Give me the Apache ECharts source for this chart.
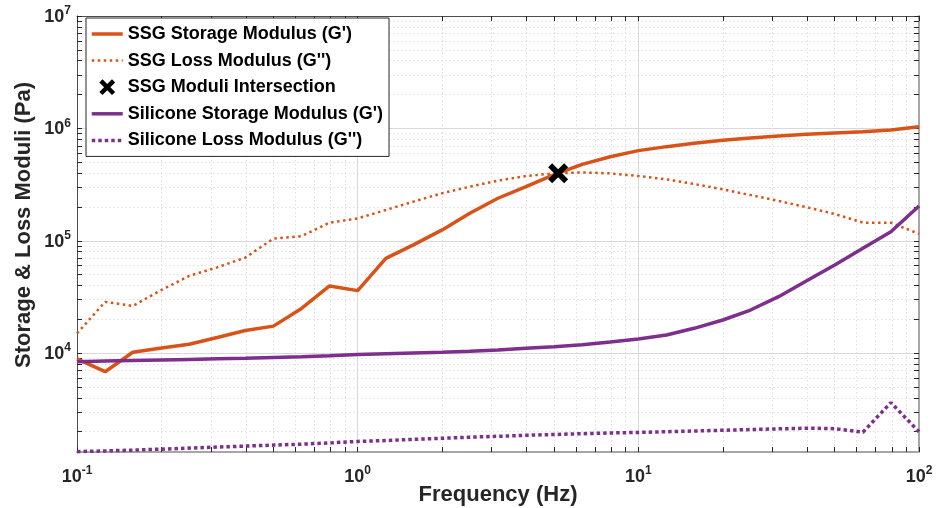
<!DOCTYPE html>
<html>
<head>
<meta charset="utf-8">
<script src="https://cdn.jsdelivr.net/npm/echarts@6/dist/echarts.min.js"></script>
<style>
html,body{margin:0;padding:0;background:#fff;}
#chart{width:937px;height:508px;}
</style>
</head>
<body>
<div id="chart"></div>
<script>
// ---- data ----
const freq = [0.1, 0.126, 0.158, 0.2, 0.251, 0.316, 0.398, 0.501, 0.631, 0.794,
  1, 1.26, 1.58, 2, 2.51, 3.16, 3.98, 5.01, 6.31, 7.94,
  10, 12.6, 15.8, 20, 25.1, 31.6, 39.8, 50.1, 63.1, 79.4, 100];
const ssgStorage = [8900, 6840, 10200, 11100, 12000, 13800, 15900, 17400, 25000, 39600,
  36000, 69800, 92000, 125000, 176000, 239000, 303000, 388000, 479000, 560000,
  634000, 688000, 737000, 783000, 822000, 856000, 885000, 910000, 935000, 968000, 1035000];
const ssgLoss = [15000, 28600, 26300, 36500, 48700, 58000, 70800, 104600, 110000, 145000,
  158000, 188000, 223000, 265000, 303000, 343000, 377000, 398000, 406000, 398000,
  377000, 352000, 320000, 287000, 255000, 226000, 199000, 173000, 145000, 145000, 115000];
const siliconeStorage = [8400, 8500, 8600, 8700, 8800, 8900, 9000, 9150, 9300, 9500,
  9750, 9900, 10050, 10200, 10400, 10670, 11040, 11420, 11900, 12590,
  13370, 14520, 16640, 19720, 24200, 31800, 44000, 61000, 85700, 120500, 204000];
const siliconeLoss = [1330, 1350, 1370, 1400, 1430, 1460, 1490, 1520, 1550, 1590,
  1640, 1670, 1710, 1750, 1790, 1820, 1860, 1890, 1920, 1950,
  1970, 2000, 2030, 2060, 2090, 2120, 2150, 2130, 1980, 3630, 2000];
const crossFreq = [5.18];
const crossModulus = [398000];

const seriesNames = ["SSG Storage Modulus (G')", "SSG Loss Modulus (G'')", "SSG Moduli Intersection",
  "Silicone Storage Modulus (G')", "Silicone Loss Modulus (G'')"];

// ---- axis ticks ----
const xMin = 0.1, xMax = 100, yMin = 1320, yMax = 1e7;
const xMajorTicks = [0.1, 1, 10, 100];
const yMajorTicks = [1e4, 1e5, 1e6, 1e7];
const minorSteps = [2, 3, 4, 5, 6, 7, 8, 9];
const xDecades = [0.1, 1, 10];
const yDecades = [1e3, 1e4, 1e5, 1e6];
const xMinorTicks = xDecades.flatMap(d => minorSteps.map(m => +(m * d).toPrecision(6)));
const yMinorTicks = yDecades.flatMap(d => minorSteps.map(m => m * d)).filter(v => v >= yMin);
const xAllTicks = xMajorTicks.concat(xMinorTicks);
const yAllTicks = yMajorTicks.concat(yMinorTicks);

const ORANGE = '#D95319', PURPLE = '#7E2F8E';
const FONT = '"Liberation Sans", Arial, Helvetica, sans-serif';

function pow10Label(v) {
  const e = Math.round(Math.log10(v));
  return '{b|10}{s|' + e + '}';
}
const richLbl = {
  b: {fontSize: 18, fontWeight: 'bold', fontFamily: FONT, color: '#262626', lineHeight: 20, verticalAlign: 'bottom'},
  s: {fontSize: 12, fontWeight: 'bold', fontFamily: FONT, color: '#262626', lineHeight: 12, padding: [0, 0, 9, 0], verticalAlign: 'bottom'}
};

function pairs(xs, ys) { return xs.map((x, i) => [x, ys[i]]); }

const darkLine = {show: true, onZero: false, lineStyle: {color: '#4d4d4d', width: 1}};
const lightLine = {show: true, onZero: false, lineStyle: {color: '#a6a6a6', width: 2}};
const tickStyle = {color: '#262626', width: 1};
const majorGrid = {show: true, lineStyle: {color: '#d9d9d9', width: 1, type: 'solid'}};
const minorGrid = {show: true, lineStyle: {color: '#dedede', width: 1, type: [1.5, 2.5]}};

const xAxes = [
  { // main bottom axis
    type: 'log', logBase: 10, min: xMin, max: xMax, position: 'bottom', gridIndex: 0,
    axisLine: lightLine,
    axisTick: {show: true, inside: true, length: 5, lineStyle: tickStyle, customValues: xAllTicks},
    axisLabel: {show: true, margin: 14, formatter: pow10Label, rich: richLbl, customValues: xMajorTicks},
    splitLine: {show: false}, minorTick: {show: false},
    name: 'Frequency (Hz)', nameLocation: 'middle', nameGap: 32, nameMoveOverlap: false,
    nameTextStyle: {fontSize: 22, fontWeight: 'bold', fontFamily: FONT, color: '#262626'}
  },
  { // major grid
    type: 'log', min: xMin, max: xMax, position: 'bottom', gridIndex: 0,
    axisLine: {show: false}, axisLabel: {show: false},
    axisTick: {show: false, customValues: xMajorTicks},
    splitLine: majorGrid
  },
  { // minor grid
    type: 'log', min: xMin, max: xMax, position: 'bottom', gridIndex: 0,
    axisLine: {show: false}, axisLabel: {show: false},
    axisTick: {show: false, customValues: xMinorTicks},
    splitLine: minorGrid
  },
  { // top mirror
    type: 'log', min: xMin, max: xMax, position: 'top', gridIndex: 0,
    axisLine: darkLine, axisLabel: {show: false},
    axisTick: {show: true, inside: true, length: 5, lineStyle: tickStyle, customValues: xAllTicks},
    splitLine: {show: false}
  }
];

const yAxes = [
  {
    type: 'log', logBase: 10, min: yMin, max: yMax, position: 'left', gridIndex: 0,
    axisLine: darkLine,
    axisTick: {show: true, inside: true, length: 5, lineStyle: tickStyle, customValues: yAllTicks},
    axisLabel: {show: true, margin: 6, formatter: pow10Label, rich: richLbl, customValues: yMajorTicks},
    splitLine: {show: false}, minorTick: {show: false},
    name: 'Storage & Loss Moduli (Pa)', nameLocation: 'middle', nameGap: 42, nameRotate: 90, nameMoveOverlap: false,
    nameTextStyle: {fontSize: 22, fontWeight: 'bold', fontFamily: FONT, color: '#262626', padding: [0, 0, 0, 18]}
  },
  {
    type: 'log', min: yMin, max: yMax, position: 'left', gridIndex: 0,
    axisLine: {show: false}, axisLabel: {show: false},
    axisTick: {show: false, customValues: yMajorTicks},
    splitLine: majorGrid
  },
  {
    type: 'log', min: yMin, max: yMax, position: 'left', gridIndex: 0,
    axisLine: {show: false}, axisLabel: {show: false},
    axisTick: {show: false, customValues: yMinorTicks},
    splitLine: minorGrid
  },
  {
    type: 'log', min: yMin, max: yMax, position: 'right', gridIndex: 0,
    axisLine: lightLine, axisLabel: {show: false},
    axisTick: {show: true, inside: true, length: 5, lineStyle: tickStyle, customValues: yAllTicks},
    splitLine: {show: false}
  }
];

const X_PATH = 'path://M2,0L5,3L8,0L10,2L7,5L10,8L8,10L5,7L2,10L0,8L3,5L0,2Z';
const X_LEGEND_PATH = 'path://M-0.7,-0.7M10.7,10.7M2,0L5,3L8,0L10,2L7,5L10,8L8,10L5,7L2,10L0,8L3,5L0,2Z';

const option = {
  animation: false,
  backgroundColor: '#ffffff',
  grid: {left: 77, right: 18, top: 16, bottom: 56, containLabel: false, outerBoundsMode: 'none'},
  legend: {
    orient: 'vertical', left: 86, top: 18,
    backgroundColor: '#ffffff', borderColor: '#262626', borderWidth: 1, borderRadius: 0,
    padding: [7, 6, 7, 4], itemGap: 8.6, itemWidth: 31, itemHeight: 18,
    itemStyle: {opacity: 0},
    lineStyle: {width: 3.5},
    textStyle: {fontSize: 18, fontWeight: 'bold', fontFamily: FONT, color: '#000'},
    data: [
      {name: seriesNames[0]},
      {name: seriesNames[1], lineStyle: {width: 2.5}},
      {name: seriesNames[2], icon: X_LEGEND_PATH, itemStyle: {opacity: 1, color: '#000'}},
      {name: seriesNames[3]},
      {name: seriesNames[4]}
    ]
  },
  xAxis: xAxes,
  yAxis: yAxes,
  series: [
    {name: seriesNames[0], type: 'line', xAxisIndex: 0, yAxisIndex: 0, data: pairs(freq, ssgStorage),
      symbol: 'none', showSymbol: false, lineStyle: {color: ORANGE, width: 3.5}, itemStyle: {color: ORANGE}, z: 3},
    {name: seriesNames[1], type: 'line', xAxisIndex: 0, yAxisIndex: 0, data: pairs(freq, ssgLoss),
      symbol: 'none', showSymbol: false, lineStyle: {color: ORANGE, width: 2.5, type: [2.5, 3.5]}, itemStyle: {color: ORANGE}, z: 3},
    {name: seriesNames[2], type: 'scatter', xAxisIndex: 0, yAxisIndex: 0, data: pairs(crossFreq, crossModulus),
      symbol: X_PATH, symbolSize: 20, itemStyle: {color: '#000', opacity: 1}, z: 10},
    {name: seriesNames[3], type: 'line', xAxisIndex: 0, yAxisIndex: 0, data: pairs(freq, siliconeStorage),
      symbol: 'none', showSymbol: false, lineStyle: {color: PURPLE, width: 3.5}, itemStyle: {color: PURPLE}, z: 4},
    {name: seriesNames[4], type: 'line', xAxisIndex: 0, yAxisIndex: 0, data: pairs(freq, siliconeLoss),
      symbol: 'none', showSymbol: false, lineStyle: {color: PURPLE, width: 3.5, type: [3.5, 3]}, itemStyle: {color: PURPLE}, z: 4}
  ]
};

const chart = echarts.init(document.getElementById('chart'), null, {renderer: 'canvas'});
chart.setOption(option);
</script>
</body>
</html>
